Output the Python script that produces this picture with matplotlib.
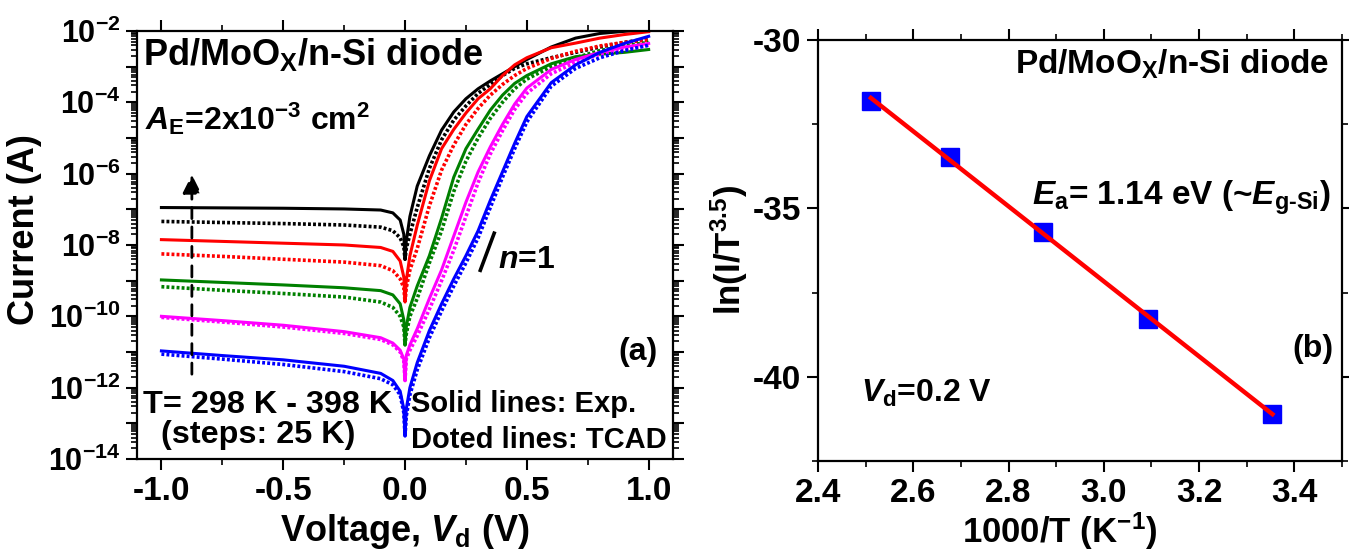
import numpy as np
import matplotlib
matplotlib.use('Agg')
import matplotlib.pyplot as plt
from matplotlib.ticker import MultipleLocator, LogLocator, NullFormatter, FuncFormatter

plt.rcParams.update({
    'font.family': ['Liberation Sans', 'DejaVu Sans'],
    'font.weight': 'bold',
    'mathtext.fontset': 'custom',
    'mathtext.rm': 'Liberation Sans:bold',
    'mathtext.it': 'Liberation Sans:italic:bold',
    'mathtext.bf': 'Liberation Sans:bold',
    'axes.unicode_minus': False,
    'axes.linewidth': 1.6,
})

# ---- panel (a): I-V curves, log10(I) ----
v_rev = [-1.0, -0.75, -0.5, -0.25, -0.1, -0.05, -0.02, -0.005, 0.0]
v_fwd = [0.005, 0.02, 0.05, 0.1, 0.15, 0.2, 0.25, 0.3, 0.35, 0.4, 0.45, 0.5,
         0.6, 0.7, 0.8, 0.9, 1.0]

temps = [398, 373, 348, 323, 298]
colors = ['black', 'red', '#008000', 'magenta', 'blue']

logi_exp = {
    398: [-6.95, -6.96, -6.97, -6.99, -7.02, -7.10, -7.30, -7.70, -8.40,
          -7.90, -7.20, -6.35, -5.50, -4.78, -4.27, -3.90, -3.62, -3.40, -3.20, -3.00, -2.80,
          -2.45, -2.20, -2.07, -2.01, -1.97],
    373: [-7.85, -7.90, -7.95, -8.00, -8.07, -8.18, -8.45, -8.90, -9.60,
          -9.00, -8.30, -7.45, -6.20, -5.30, -4.76, -4.30, -3.90, -3.62, -3.25, -2.95, -2.75,
          -2.47, -2.34, -2.20, -2.10, -2.02],
    348: [-8.98, -9.05, -9.12, -9.20, -9.28, -9.40, -9.65, -10.10, -10.80,
          -10.30, -9.75, -9.15, -8.30, -7.25, -6.10, -5.30, -4.75, -4.22, -3.80, -3.47, -3.25,
          -2.92, -2.72, -2.65, -2.60, -2.52],
    323: [-10.00, -10.12, -10.25, -10.43, -10.60, -10.75, -10.95, -11.20, -11.80,
          -11.10, -10.80, -10.35, -9.50, -8.70, -7.75, -6.80, -5.95, -5.25, -4.62, -4.05, -3.60,
          -3.08, -2.80, -2.60, -2.45, -2.35],
    298: [-10.97, -11.10, -11.22, -11.40, -11.60, -11.80, -12.10, -12.60, -13.35,
          -12.60, -12.00, -11.30, -10.40, -9.65, -8.95, -8.30, -7.60, -6.75, -5.95, -5.15, -4.40,
          -3.45, -2.95, -2.60, -2.35, -2.15],
}
logi_tcad = {
    398: [-7.34, -7.37, -7.40, -7.44, -7.50, -7.60, -7.80, -8.05, -8.40,
          -8.10, -7.70, -6.95, -5.85, -5.05, -4.50, -4.10, -3.75, -3.50, -3.25, -3.05, -2.92,
          -2.75, -2.60, -2.45, -2.32, -2.22],
    373: [-8.25, -8.32, -8.40, -8.48, -8.58, -8.72, -8.95, -9.20, -9.60,
          -9.20, -8.70, -8.10, -6.90, -5.90, -5.20, -4.62, -4.17, -3.80, -3.50, -3.25, -3.05,
          -2.77, -2.57, -2.42, -2.32, -2.25],
    348: [-9.17, -9.27, -9.36, -9.46, -9.60, -9.75, -10.00, -10.30, -10.80,
          -10.50, -10.00, -9.50, -8.50, -7.60, -6.50, -5.65, -5.00, -4.45, -4.00, -3.62, -3.35,
          -3.00, -2.75, -2.55, -2.42, -2.32],
    323: [-10.03, -10.16, -10.30, -10.48, -10.65, -10.80, -11.00, -11.25, -11.80,
          -11.20, -10.95, -10.55, -9.80, -9.00, -8.15, -7.20, -6.25, -5.45, -4.80, -4.20, -3.75,
          -3.20, -2.88, -2.65, -2.50, -2.40],
    298: [-11.06, -11.20, -11.35, -11.55, -11.75, -11.92, -12.20, -12.70, -13.35,
          -12.80, -12.20, -11.50, -10.60, -9.85, -9.15, -8.50, -7.80, -6.95, -6.10, -5.30, -4.55,
          -3.55, -3.05, -2.75, -2.55, -2.40],
}

# n=1 guide segment and temperature arrow
n1_v = [0.309, 0.366]
n1_i = [10**-8.71, 10**-7.67]
arrow_v = -0.875
arrow_i = [10**-11.7, 10**-5.95]

# ---- panel (b): Arrhenius plot ----
inv_t = [2.511, 2.678, 2.872, 3.093, 3.354]
ln_it = [-31.81, -33.48, -35.69, -38.28, -41.10]

fig = plt.figure(figsize=(13.49, 5.54), dpi=100)
ax1 = fig.add_axes([0.1016, 0.1715, 0.3973, 0.7726])
ax2 = fig.add_axes([0.6064, 0.1679, 0.3884, 0.760])

v_all = v_rev + v_fwd
for t, c in zip(temps, colors):
    ax1.plot(v_all, 10**np.array(logi_tcad[t]), color=c, lw=2.6,
             ls=(0, (0.8, 0.6)))
    ax1.plot(v_all, 10**np.array(logi_exp[t]), color=c, lw=2.2)

ax1.plot(n1_v, n1_i, color='black', lw=2.6)
ax1.annotate('', xy=(arrow_v, arrow_i[1]), xytext=(arrow_v, arrow_i[0]),
             arrowprops=dict(arrowstyle='-|>', color='black', lw=2.0,
                             ls=(0, (4, 3)), mutation_scale=28))

ax1.set_yscale('log')
ax1.set_xlim(-1.1, 1.1)
ax1.set_ylim(1e-14, 1e-2)
ax1.xaxis.set_major_locator(MultipleLocator(0.5))
ax1.xaxis.set_minor_locator(MultipleLocator(0.25))
ax1.xaxis.set_major_formatter(FuncFormatter(lambda v, p: '%.1f' % v))
ax1.yaxis.set_major_locator(LogLocator(base=10, numticks=20))
ax1.yaxis.set_minor_locator(LogLocator(base=10, subs=np.arange(2, 10), numticks=20))
ax1.yaxis.set_minor_formatter(NullFormatter())


def dec_fmt(v, p):
    e = int(round(np.log10(v)))
    return r'$\mathbf{10^{%d}}$' % e if e % 2 == 0 else ''


ax1.yaxis.set_major_formatter(FuncFormatter(dec_fmt))

ax1.set_xlabel(r'Voltage, $V_\mathrm{d}$ (V)', fontsize=26, fontweight='bold')
ax1.set_ylabel('Current (A)', fontsize=26, fontweight='bold')
ax1.xaxis.set_label_coords(0.5, -0.125)
ax1.yaxis.set_label_coords(-0.178, 0.535)

ax1.text(0.011, 0.921, r'Pd/MoO$_\mathrm{X}$/n-Si diode', transform=ax1.transAxes,
         fontsize=26, va='baseline')
ax1.text(0.015, 0.769, r'$A_\mathrm{E}$=2x10$^{-3}$ cm$^2$', transform=ax1.transAxes,
         fontsize=23, va='baseline')
ax1.text(0.011, 0.107, 'T= 298 K - 398 K', transform=ax1.transAxes,
         fontsize=23.3, va='baseline')
ax1.text(0.045, 0.037, '(steps: 25 K)', transform=ax1.transAxes,
         fontsize=23.3, va='baseline')
ax1.text(0.511, 0.110, 'Solid lines: Exp.', transform=ax1.transAxes,
         fontsize=21, va='baseline')
ax1.text(0.511, 0.026, 'Doted lines: TCAD', transform=ax1.transAxes,
         fontsize=21, va='baseline')
ax1.text(0.972, 0.25, '(a)', transform=ax1.transAxes, fontsize=23,
         ha='right', va='center')
ax1.text(0.673, 0.446, r'$n$=1', transform=ax1.transAxes, fontsize=23,
         va='baseline')

# panel (b)
ax2.plot(inv_t, ln_it, 's', color='blue', ms=12.5, mec='blue')
coef = np.polyfit(inv_t, ln_it, 1)
fit_x = np.array([min(inv_t), max(inv_t)])
ax2.plot(fit_x, np.polyval(coef, fit_x), color='red', lw=3.2)

ax2.set_xlim(2.4, 3.5)
ax2.set_ylim(-42.5, -30)
ax2.xaxis.set_major_locator(MultipleLocator(0.2))
ax2.xaxis.set_minor_locator(MultipleLocator(0.1))
ax2.xaxis.set_major_formatter(FuncFormatter(lambda v, p: '%.1f' % v))
ax2.yaxis.set_major_locator(MultipleLocator(5))
ax2.yaxis.set_minor_locator(MultipleLocator(2.5))
ax2.set_xlabel(r'1000/T (K$^{-1}$)', fontsize=25, fontweight='bold')
ax2.set_ylabel(r'ln(I/T$^{3.5}$)', fontsize=25, fontweight='bold')
ax2.xaxis.set_label_coords(0.462, -0.118)
ax2.yaxis.set_label_coords(-0.13, 0.5)

ax2.text(0.975, 0.919, r'Pd/MoO$_\mathrm{X}$/n-Si diode', transform=ax2.transAxes,
         fontsize=24, ha='right', va='baseline')
ax2.text(0.979, 0.610, r'$E_\mathrm{a}$= 1.14 eV (~$E_\mathrm{g\text{-}Si}$)',
         transform=ax2.transAxes, fontsize=24, ha='right', va='baseline')
ax2.text(0.082, 0.140, r'$V_\mathrm{d}$=0.2 V', transform=ax2.transAxes,
         fontsize=23, va='baseline')
ax2.text(0.983, 0.266, '(b)', transform=ax2.transAxes, fontsize=23,
         ha='right', va='center')

for ax in (ax1, ax2):
    ax.tick_params(which='both', direction='out', top=True, right=True,
                   width=1.5, labelsize=24)
    ax.tick_params(which='major', length=8, pad=4)
    ax.tick_params(which='minor', length=4.5, width=1.2)
    for lab in ax.get_xticklabels() + ax.get_yticklabels():
        lab.set_fontweight('bold')
ax1.tick_params(axis='y', which='major', labelsize=22)

fig.savefig('out.png', dpi=100)
